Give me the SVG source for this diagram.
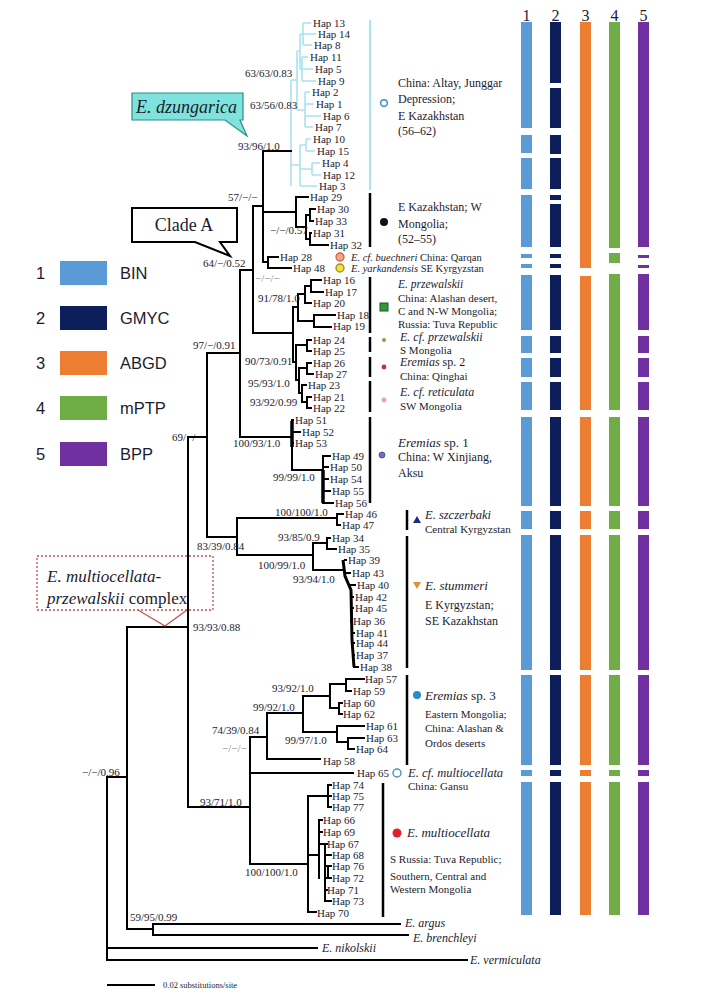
<svg xmlns="http://www.w3.org/2000/svg" width="722" height="1000" viewBox="0 0 722 1000">
<style>
.t{font-family:"Liberation Serif",serif;fill:#1c1c2e}
.h{font-size:11px}
.n{font-size:11px}
.loc{font-size:11px}
.lg{font-family:"Liberation Sans",Arial,sans-serif;font-size:16.5px;fill:#1c1c2e}
.br{stroke:#000;stroke-width:2;fill:none;stroke-linecap:square}
.cy{stroke:#a8e3ee;stroke-width:1.6;fill:none}
.c1{fill:#5b9bd5}.c2{fill:#0c1f5a}.c3{fill:#ed7d31}.c4{fill:#70ad47}.c5{fill:#7030a0}
</style>
<rect width="722" height="1000" fill="#fff"/>

<g id="legend">
<text class="lg" x="36" y="279">1</text><rect class="c1" x="60" y="261" width="47" height="24"/><text class="lg" x="120" y="279">BIN</text>
<text class="lg" x="36" y="324">2</text><rect class="c2" x="60" y="306" width="47" height="24"/><text class="lg" x="120" y="324">GMYC</text>
<text class="lg" x="36" y="369">3</text><rect class="c3" x="60" y="351" width="47" height="24"/><text class="lg" x="120" y="369">ABGD</text>
<text class="lg" x="36" y="414">4</text><rect class="c4" x="60" y="396" width="47" height="24"/><text class="lg" x="120" y="414">mPTP</text>
<text class="lg" x="36" y="460">5</text><rect class="c5" x="60" y="442" width="47" height="24"/><text class="lg" x="120" y="460">BPP</text>
</g>

<g id="connectors">
<path class="cy" d="M291 80V186M291 80H297M297 51V110M297 51H300M300 34V69M300 34H303M303 23V45M303 23H311M303 34H316M303 45H312M300 69H302M302 57V81M302 57H308M302 69H313M302 81H316M297 110H305M305 92V127M305 92H310M305 104H314M305 116H321M305 127H313M291 165H300M300 145V186M300 145H306M306 139V151M306 139H311M306 151H315M300 169H312M312 163V175M312 163H320M312 175H321M300 186H317"/>
<path class="br" d="M107 777V960M107 948H317M107 960H467M107 777H127M127 627V929M127 929H153M153 924V935M153 924H400M153 935H408M127 627H188M188 437V807M188 807H250M250 737V864M250 737H267M250 773H353M250 864H308M267 713V759M267 759H320M267 713H303M303 696V732M303 696H330M330 684V708M330 684H346M346 679V691M346 679H364M346 691H351M330 708H339M339 703V714M339 703H342M339 714H342M303 732H337M337 726V742M337 726H364M337 742H348M348 738V749M348 738H364M348 749H354"/>
<path class="br" d="M308 796V912M308 912H316M308 796H328M328 785V807M328 785H331M328 796H331M328 807H331M308 855H319M319 820V878M319 820H322M319 832H322M319 844H325M325 844V901M325 844H327M325 855H331M325 866H331M328 866V878M325 878H331M325 890H327M325 901H331"/>
<path class="br" d="M188 437H207M207 353V537M207 353H240M207 537H237M237 518V555M237 518H337M337 514V525M337 514H343M337 525H340M237 555H313M313 543V570M313 543H327M327 538V549M327 538H330M327 549H336M313 570H343"/>
<path d="M343 560L345 576L351 590L352 640L354 667" stroke="#000" stroke-width="3" fill="none"/>
<path class="br" d="M345 560H346M347 573H350M351 585H355M352 597H353M352 608H353M352 621H351M352 633H354M353 643H354M353 655H354M354 667H358"/>
<path class="br" d="M240 270V437M240 437H292M292 420V470M292 420H293M292 432H300M292 443H293M292 470H323M323 456V503M323 456H330M323 467H328M323 479H328M323 491H330M323 503H333"/>
<path d="M292 421V447M323 470V503" stroke="#000" stroke-width="3.5" fill="none"/>
<path class="br" d="M240 270H253M253 206V333M253 206H263M263 151V262M263 151H291M263 212H296M296 197V227M296 197H308M296 227H306M306 215V239M306 215H310M310 209V221M310 209H315M310 221H313M306 239H310M310 233V245M310 233H311M310 245H328M263 262H268M268 257V268M268 257H278M268 268H291"/>
<path class="br" d="M253 333H293M293 307V362M293 307H298M298 294V321M298 294H305M305 286V303M305 286H311M311 280V292M311 280H321M311 292H323M305 303H311M298 321H314M314 315V327M314 315H335M314 327H331M293 362H296M296 345V380M296 345H307M307 340V351M307 340H311M307 351H311M296 380H299M299 368V393M299 368H307M307 363V374M307 363H311M307 374H313M299 393H302M302 385V402M302 385H306M302 402H307M307 397V408M307 397H311M307 408H311"/>
<path d="M370 20V190" stroke="#a8e3ee" stroke-width="2"/>
<path d="M370 193V247M370 277V333M370 337V352M370 357V377M370 381V412M370 417V503M407 510V530M407 536V668M407 675V765M383 783V917" stroke="#000" stroke-width="2.5"/>
<path d="M107 985H155" stroke="#000" stroke-width="2"/>
</g>

<g id="callout-dzungarica">
<path d="M132 93H243V120H240L247 136L225 120H132Z" fill="#7de3dc" stroke="#2e8b8b" stroke-width="1.2"/>
<text class="t" x="136" y="113" font-size="18" font-style="italic">E. dzungarica</text>
</g>
<g id="callout-cladeA">
<path d="M132 208H237V242H220L230 256L195 242H132Z" fill="#fff" stroke="#000" stroke-width="2"/>
<text class="t" x="184" y="231" font-size="18" text-anchor="middle">Clade A</text>
</g>
<g id="callout-complex">
<rect x="37" y="556" width="176" height="54" fill="none" stroke="#c0504d" stroke-width="1.3" stroke-dasharray="2,2"/>
<path d="M138 610L165 626L187 610" fill="none" stroke="#c0504d" stroke-width="1.2"/>
<text class="t" x="47" y="582" font-size="17" font-style="italic">E. multiocellata-</text>
<text class="t" x="47" y="604" font-size="17"><tspan font-style="italic">przewalskii</tspan> complex</text>
</g>

<g id="support" class="t n">
<text x="245" y="77">63/63/0.83</text>
<text x="250" y="109">63/56/0.83</text>
<text x="238" y="150">93/96/1.0</text>
<text x="228" y="201">57/−/−</text>
<text x="270" y="234">−/−/0.57</text>
<text x="203" y="267">64/−/0.52</text>
<text x="255" y="282" fill="#888">−/−/−</text>
<text x="258" y="302">91/78/1.0</text>
<text x="193" y="349">97/−/0.91</text>
<text x="245" y="365">90/73/0.91</text>
<text x="248" y="387">95/93/1.0</text>
<text x="250" y="406">93/92/0.99</text>
<text x="172" y="441">69/−/−</text>
<text x="233" y="447">100/93/1.0</text>
<text x="273" y="481">99/99/1.0</text>
<text x="275" y="516">100/100/1.0</text>
<text x="278" y="541">93/85/0.9</text>
<text x="197" y="550">83/39/0.84</text>
<text x="258" y="569">100/99/1.0</text>
<text x="293" y="583">93/94/1.0</text>
<text x="193" y="631">93/93/0.88</text>
<text x="272" y="692">93/92/1.0</text>
<text x="253" y="711">99/92/1.0</text>
<text x="212" y="734">74/39/0.84</text>
<text x="285" y="744">99/97/1.0</text>
<text x="222" y="752" fill="#888">−/−/−</text>
<text x="82" y="776">−/−/0.96</text>
<text x="200" y="806">93/71/1.0</text>
<text x="245" y="876">100/100/1.0</text>
<text x="130" y="921">59/95/0.99</text>
</g>

<g id="tips" class="t h">
<text x="313" y="27">Hap 13</text><text x="318" y="38">Hap 14</text><text x="314" y="49">Hap 8</text><text x="310" y="61">Hap 11</text><text x="315" y="73">Hap 5</text><text x="318" y="85">Hap 9</text><text x="312" y="96">Hap 2</text><text x="316" y="108">Hap 1</text><text x="323" y="120">Hap 6</text><text x="315" y="131">Hap 7</text><text x="313" y="143">Hap 10</text><text x="317" y="155">Hap 15</text><text x="322" y="167">Hap 4</text><text x="323" y="179">Hap 12</text><text x="319" y="190">Hap 3</text>
<text x="310" y="201">Hap 29</text><text x="317" y="213">Hap 30</text><text x="315" y="225">Hap 33</text><text x="313" y="237">Hap 31</text><text x="330" y="249">Hap 32</text>
<text x="280" y="261">Hap 28</text><text x="293" y="272">Hap 48</text>
<text x="323" y="284">Hap 16</text><text x="325" y="296">Hap 17</text><text x="313" y="307">Hap 20</text><text x="337" y="319">Hap 18</text><text x="333" y="330">Hap 19</text>
<text x="313" y="344">Hap 24</text><text x="313" y="355">Hap 25</text><text x="313" y="367">Hap 26</text><text x="315" y="378">Hap 27</text><text x="308" y="389">Hap 23</text><text x="313" y="401">Hap 21</text><text x="313" y="412">Hap 22</text>
<text x="295" y="424">Hap 51</text><text x="302" y="436">Hap 52</text><text x="295" y="447">Hap 53</text><text x="332" y="460">Hap 49</text><text x="330" y="471">Hap 50</text><text x="330" y="483">Hap 54</text><text x="332" y="495">Hap 55</text><text x="335" y="507">Hap 56</text>
<text x="345" y="518">Hap 46</text><text x="342" y="529">Hap 47</text><text x="332" y="542">Hap 34</text><text x="338" y="553">Hap 35</text>
<text x="348" y="564">Hap 39</text><text x="352" y="577">Hap 43</text><text x="357" y="589">Hap 40</text><text x="355" y="601">Hap 42</text><text x="355" y="612">Hap 45</text><text x="353" y="625">Hap 36</text><text x="356" y="637">Hap 41</text><text x="356" y="647">Hap 44</text><text x="356" y="659">Hap 37</text><text x="360" y="671">Hap 38</text>
<text x="365" y="683">Hap 57</text><text x="353" y="695">Hap 59</text><text x="343" y="707">Hap 60</text><text x="343" y="718">Hap 62</text><text x="366" y="730">Hap 61</text><text x="366" y="742">Hap 63</text><text x="356" y="753">Hap 64</text><text x="323" y="765">Hap 58</text><text x="357" y="777">Hap 65</text>
<text x="332" y="789">Hap 74</text><text x="332" y="800">Hap 75</text><text x="332" y="811">Hap 77</text><text x="323" y="824">Hap 66</text><text x="323" y="836">Hap 69</text><text x="327" y="848">Hap 67</text><text x="332" y="859">Hap 68</text><text x="332" y="870">Hap 76</text><text x="332" y="882">Hap 72</text><text x="327" y="894">Hap 71</text><text x="332" y="905">Hap 73</text><text x="317" y="917">Hap 70</text>
</g>
<g id="outgroups" class="t" font-size="12" font-style="italic">
<text x="405" y="927">E. argus</text>
<text x="413" y="942">E. brenchleyi</text>
<text x="322" y="952">E. nikolskii</text>
<text x="470" y="964">E. vermiculata</text>
</g>
<text class="t" x="163" y="988" font-size="8.5">0.02 substitutions/site</text>

<g id="lab-dzungarica" class="t loc">
<circle cx="384" cy="103" r="3.3" fill="#fff" stroke="#3a8fc8" stroke-width="1.4"/>
<text x="398" y="87" font-size="12">China: Altay, Junggar</text><text x="398" y="103" font-size="12">Depression;</text><text x="398" y="120" font-size="12">E Kazakhstan</text><text x="398" y="135" font-size="12">(56–62)</text>
</g>
<g id="lab-kaz" class="t loc">
<circle cx="384" cy="222" r="4" fill="#111"/>
<text x="398" y="211" font-size="12">E Kazakhstan; W</text><text x="398" y="228" font-size="12">Mongolia;</text><text x="398" y="243" font-size="12">(52–55)</text>
</g>
<g id="lab-buechneri" class="t loc">
<circle cx="340" cy="257" r="4" fill="#f2a888" stroke="#d0603a" stroke-width="1.3"/>
<text x="351" y="260.5" font-size="10.5"><tspan font-style="italic">E. cf. buechneri</tspan> China: Qarqan</text>
</g>
<g id="lab-yarkandensis" class="t loc">
<circle cx="340" cy="268" r="4" fill="#f2e04a" stroke="#a09010" stroke-width="1.3"/>
<text x="351" y="272" font-size="10.5"><tspan font-style="italic">E. yarkandensis</tspan> SE Kyrgyzstan</text>
</g>
<g id="lab-przewalskii" class="t loc">
<rect x="380" y="303" width="8" height="8" fill="#2d9a3a" stroke="#1a5a1a"/>
<text x="398" y="288" font-style="italic" font-size="11.5">E. przewalskii</text><text x="398" y="302">China: Alashan desert,</text><text x="398" y="315">C and N-W Mongolia;</text><text x="398" y="328">Russia: Tuva Republic</text>
</g>
<g id="lab-cfprz" class="t loc">
<circle cx="384" cy="340" r="2" fill="#8aa050"/>
<text x="400" y="341" font-style="italic" font-size="12">E. cf. przewalskii</text><text x="400" y="354">S Mongolia</text>
</g>
<g id="lab-sp2" class="t loc">
<circle cx="384" cy="367" r="2.4" fill="#c0304a"/>
<text x="400" y="366" font-size="12"><tspan font-style="italic">Eremias</tspan> sp. 2</text><text x="400" y="380">China: Qinghai</text>
</g>
<g id="lab-reticulata" class="t loc">
<circle cx="384" cy="400" r="2.4" fill="#f0a0a0"/>
<text x="400" y="396" font-style="italic" font-size="12">E. cf. reticulata</text><text x="400" y="410">SW Mongolia</text>
</g>
<g id="lab-sp1" class="t loc">
<circle cx="382" cy="455" r="3" fill="#7070c0" stroke="#404090" stroke-width="0.8"/>
<text x="398" y="447" font-size="13"><tspan font-style="italic">Eremias</tspan> sp. 1</text><text x="398" y="461" font-size="12">China: W Xinjiang,</text><text x="398" y="477" font-size="12">Aksu</text>
</g>
<g id="lab-szczerbaki" class="t loc">
<path d="M417 516L421 523H413Z" fill="#1a2a80"/>
<text x="425" y="519" font-style="italic" font-size="12.5">E. szczerbaki</text><text x="425" y="533">Central Kyrgyzstan</text>
</g>
<g id="lab-stummeri" class="t loc">
<path d="M413 582H421L417 589Z" fill="#e09040"/>
<text x="425" y="590" font-style="italic" font-size="13">E. stummeri</text><text x="425" y="609" font-size="12">E Kyrgyzstan;</text><text x="425" y="625" font-size="12">SE Kazakhstan</text>
</g>
<g id="lab-sp3" class="t loc">
<circle cx="417" cy="695" r="4" fill="#2a8ad0"/>
<text x="425" y="700" font-size="13"><tspan font-style="italic">Eremias</tspan> sp. 3</text><text x="425" y="718">Eastern Mongolia;</text><text x="425" y="732">China: Alashan &amp;</text><text x="425" y="747">Ordos deserts</text>
</g>
<g id="lab-cfmulti" class="t loc">
<circle cx="397" cy="773" r="4" fill="#fff" stroke="#4a90c0" stroke-width="1.4"/>
<text x="408" y="777" font-style="italic" font-size="12.5">E. cf. multiocellata</text><text x="408" y="790">China: Gansu</text>
</g>
<g id="lab-multi" class="t loc">
<circle cx="397" cy="833" r="4.5" fill="#e02030"/>
<text x="407" y="837" font-style="italic" font-size="13">E. multiocellata</text><text x="390" y="863">S Russia: Tuva Republic;</text><text x="390" y="880">Southern, Central and</text><text x="390" y="893">Western Mongolia</text>
</g>

<g id="col-heads" class="t" font-size="16" text-anchor="middle">
<text x="526.5" y="21">1</text><text x="555.5" y="21">2</text><text x="585.5" y="21">3</text><text x="614.5" y="21">4</text><text x="643.5" y="21">5</text>
</g>
<g id="col1" class="c1">
<rect x="521" y="22" width="11" height="106"/><rect x="521" y="135" width="11" height="18"/><rect x="521" y="158" width="11" height="31"/><rect x="521" y="195" width="11" height="52"/><rect x="521" y="254" width="11" height="4"/><rect x="521" y="264" width="11" height="4"/><rect x="521" y="275" width="11" height="55"/><rect x="521" y="336" width="11" height="17"/><rect x="521" y="358" width="11" height="19"/><rect x="521" y="382" width="11" height="28"/><rect x="521" y="417" width="11" height="89"/><rect x="521" y="511" width="11" height="18"/><rect x="521" y="535" width="11" height="135"/><rect x="521" y="675" width="11" height="90"/><rect x="521" y="770" width="11" height="6"/><rect x="521" y="782" width="11" height="133"/>
</g>
<g id="col2" class="c2">
<rect x="550" y="22" width="11" height="61"/><rect x="550" y="88" width="11" height="40"/><rect x="550" y="135" width="11" height="19"/><rect x="550" y="158" width="11" height="31"/><rect x="550" y="195" width="11" height="5"/><rect x="550" y="204" width="11" height="43"/><rect x="550" y="254" width="11" height="4"/><rect x="550" y="264" width="11" height="4"/><rect x="550" y="275" width="11" height="55"/><rect x="550" y="336" width="11" height="17"/><rect x="550" y="358" width="11" height="19"/><rect x="550" y="382" width="11" height="28"/><rect x="550" y="417" width="11" height="89"/><rect x="550" y="511" width="11" height="18"/><rect x="550" y="535" width="11" height="135"/><rect x="550" y="675" width="11" height="90"/><rect x="550" y="770" width="11" height="6"/><rect x="550" y="782" width="11" height="133"/>
</g>
<g id="col3" class="c3">
<rect x="580" y="22" width="11" height="246"/><rect x="580" y="276" width="11" height="134"/><rect x="580" y="417" width="11" height="89"/><rect x="580" y="511" width="11" height="18"/><rect x="580" y="535" width="11" height="135"/><rect x="580" y="675" width="11" height="90"/><rect x="580" y="770" width="11" height="6"/><rect x="580" y="782" width="11" height="133"/>
</g>
<g id="col4" class="c4">
<rect x="609" y="22" width="11" height="226"/><rect x="609" y="253" width="11" height="10"/><rect x="609" y="274" width="11" height="136"/><rect x="609" y="417" width="11" height="89"/><rect x="609" y="511" width="11" height="18"/><rect x="609" y="535" width="11" height="135"/><rect x="609" y="675" width="11" height="90"/><rect x="609" y="770" width="11" height="6"/><rect x="609" y="782" width="11" height="133"/>
</g>
<g id="col5" class="c5">
<rect x="638" y="22" width="11" height="225"/><rect x="638" y="255" width="11" height="3"/><rect x="638" y="265" width="11" height="3"/><rect x="638" y="274" width="11" height="56"/><rect x="638" y="336" width="11" height="17"/><rect x="638" y="358" width="11" height="19"/><rect x="638" y="382" width="11" height="28"/><rect x="638" y="417" width="11" height="89"/><rect x="638" y="511" width="11" height="18"/><rect x="638" y="535" width="11" height="135"/><rect x="638" y="675" width="11" height="90"/><rect x="638" y="770" width="11" height="6"/><rect x="638" y="782" width="11" height="133"/>
</g>
</svg>
